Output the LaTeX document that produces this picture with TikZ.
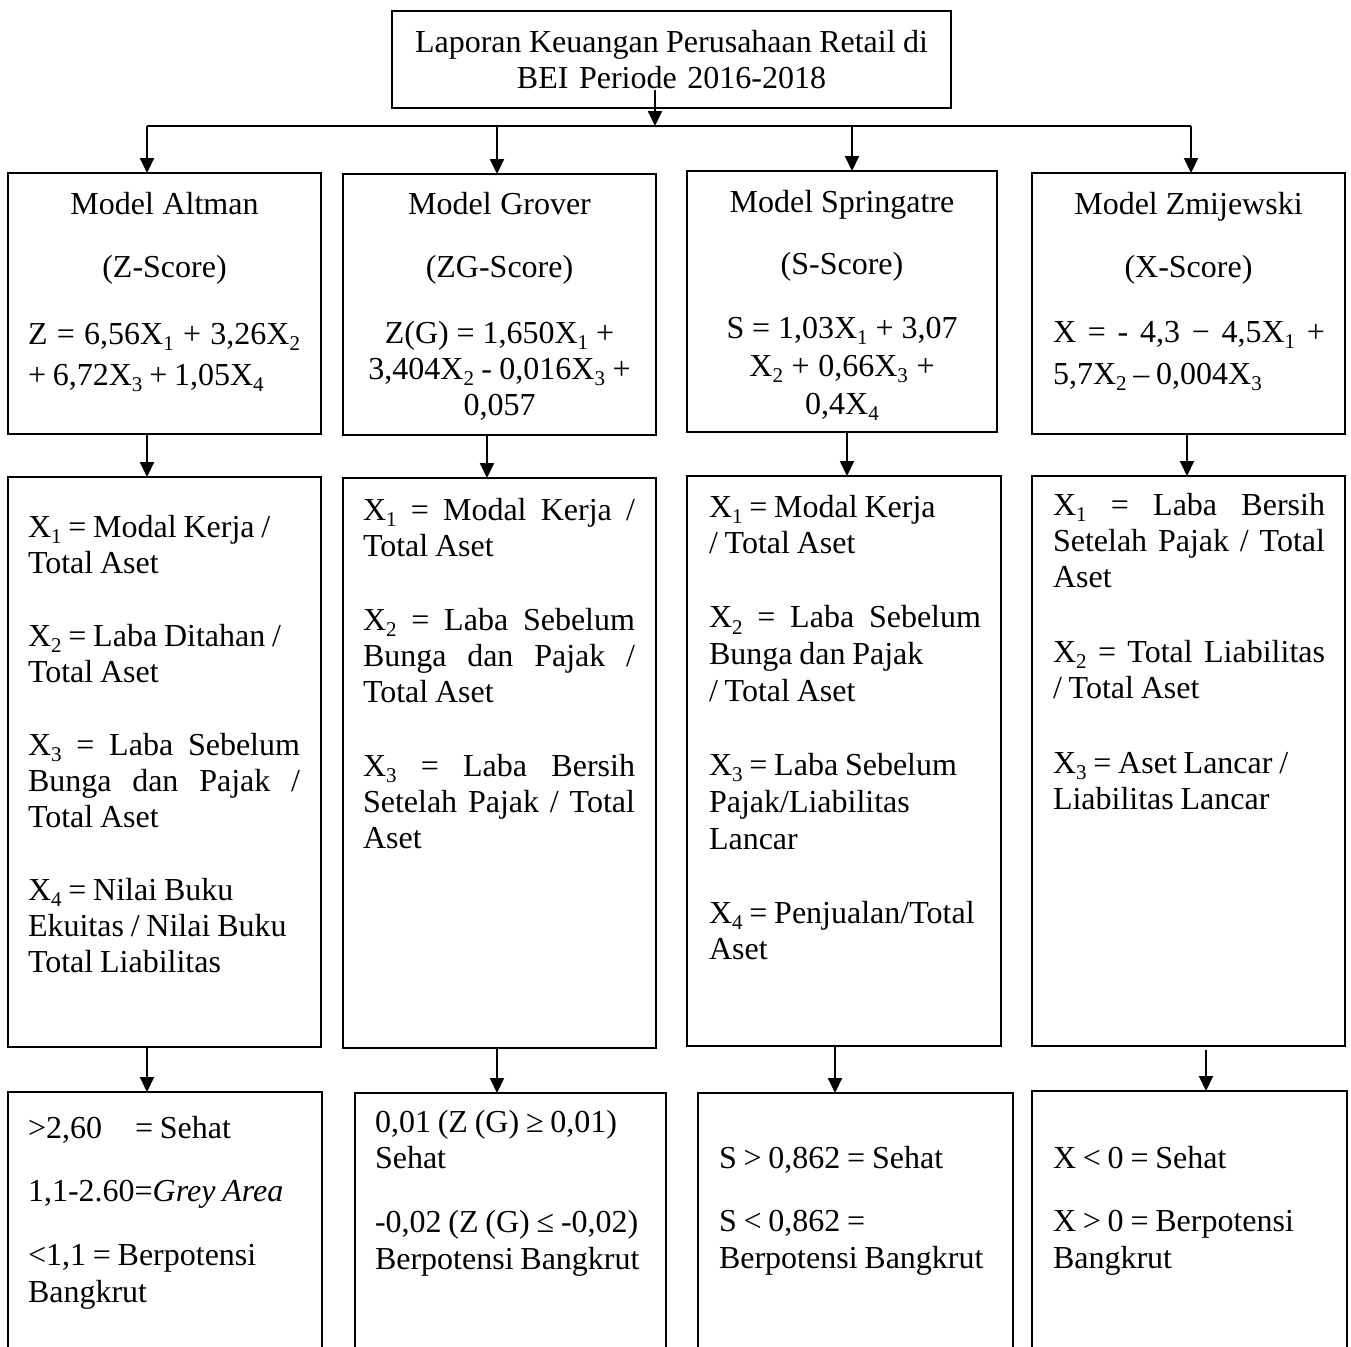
\documentclass[tikz,border=0pt]{standalone}
\usepackage{fontspec}
\setmainfont{Liberation Serif}
\usetikzlibrary{arrows.meta}
\newcommand{\xsb}[1]{\raisebox{-0.2em}{\fontsize{10.5}{10}\selectfont #1}}
\newcommand{\jl}[1]{\makebox[136pt][s]{\spaceskip=3pt plus 1fil minus 0.5pt\relax #1}}
\newcommand{\txtfont}[1]{\fontsize{16}{#1}\selectfont}
\begin{document}
\begin{tikzpicture}[x=0.5pt,y=-0.5pt,
  box/.style={draw, line width=1.1pt, anchor=north west, inner sep=0pt, outer sep=0pt},
  txt/.style={inner sep=0pt, outer sep=0pt, anchor=base west, align=left, text width=150pt, font=\txtfont{18.4pt},
    execute at begin node={\spaceskip=3.4pt plus 1pt minus 0.5pt\relax}},
  ctxt/.style={txt, anchor=base, align=center},
  arr/.style={line width=1pt, -{Triangle[length=7.5pt,width=7pt]}}]
\fill[white] (0,0) rectangle (1351,1346);
\useasboundingbox (0,0) rectangle (1351,1346);

% top box
\node[box, minimum width=279.5pt, minimum height=48.5pt] (top) at (392,11) {};
\node[ctxt, text width=275pt, font=\txtfont{18pt}] (toptxt) at (671.5,52) {Laporan Keuangan Perusahaan Retail di\\BEI Periode 2016-2018};

% row 1 boxes
\node[box, minimum width=156.5pt, minimum height=130.5pt] (a1) at (8,173) {};
\node[box, minimum width=156.5pt, minimum height=130.5pt] (g1) at (343,174) {};
\node[box, minimum width=155pt, minimum height=130.5pt] (s1) at (687,171) {};
\node[box, minimum width=156.5pt, minimum height=130.5pt] (z1) at (1032,173) {};

% row 2 boxes
\node[box, minimum width=156.5pt, minimum height=285pt] (a2) at (8,477) {};
\node[box, minimum width=156.5pt, minimum height=285pt] (g2) at (343,478) {};
\node[box, minimum width=157pt, minimum height=285pt] (s2) at (687,476) {};
\node[box, minimum width=156.5pt, minimum height=285pt] (z2) at (1032,476) {};

% row 3 boxes (run past the lower edge)
\node[box, minimum width=157pt, minimum height=145pt] (a3) at (8,1092) {};
\node[box, minimum width=155.5pt, minimum height=145pt] (g3) at (355,1093) {};
\node[box, minimum width=157.5pt, minimum height=145pt] (s3) at (698,1093) {};
\node[box, minimum width=157.5pt, minimum height=145pt] (z3) at (1032,1091) {};

% row 1 texts
\node[ctxt] (a1t) at (164.5,214) {Model Altman\\[13.1pt](Z-Score)};
\node[txt] (a1f) at (28,344) {\jl{Z = 6,56X\xsb{1} + 3,26X\xsb{2}}\\[2.1pt]+ 6,72X\xsb{3} + 1,05X\xsb{4}};
\node[ctxt] (g1t) at (499.5,214) {Model Grover\\[13.1pt](ZG-Score)};
\node[ctxt, font=\txtfont{18pt}] (g1f) at (499.5,343) {Z(G) = 1,650X\xsb{1} +\\3,404X\xsb{2} - 0,016X\xsb{3} +\\0,057};
\node[ctxt] (s1t) at (842,212) {Model Springatre\\[12.6pt](S-Score)};
\node[ctxt, font=\txtfont{19pt}] (s1f) at (842,338) {S = 1,03X\xsb{1} + 3,07\\X\xsb{2} + 0,66X\xsb{3} +\\0,4X\xsb{4}};
\node[ctxt] (z1t) at (1188.5,214) {Model Zmijewski\\[13.1pt](X-Score)};
\node[txt] (z1f) at (1053,342) {\jl{X = - 4,3 − 4,5X\xsb{1} +}\\[2.6pt]5,7X\xsb{2} – 0,004X\xsb{3}};

% row 2 texts
\node[txt, font=\txtfont{18pt}] (a2t) at (28,537) {X\xsb{1} = Modal Kerja /\\Total Aset\\[18.5pt]X\xsb{2} = Laba Ditahan /\\Total Aset\\[18.5pt]\jl{X\xsb{3} = Laba Sebelum}\\\jl{Bunga dan Pajak /}\\Total Aset\\[18.5pt]X\xsb{4} = Nilai Buku\\Ekuitas / Nilai Buku\\Total Liabilitas};
\node[txt, font=\txtfont{18pt}] (g2t) at (363,520) {\jl{X\xsb{1} = Modal Kerja /}\\Total Aset\\[19pt]\jl{X\xsb{2} = Laba Sebelum}\\\jl{Bunga dan Pajak /}\\Total Aset\\[19pt]\jl{X\xsb{3} = Laba Bersih}\\\jl{Setelah Pajak / Total}\\Aset};
\node[txt, font=\txtfont{18.4pt}] (s2t) at (709,517) {X\xsb{1} = Modal Kerja\\/ Total Aset\\[18.6pt]\jl{X\xsb{2} = Laba Sebelum}\\Bunga dan Pajak\\/ Total Aset\\[18.6pt]X\xsb{3} = Laba Sebelum\\Pajak/Liabilitas\\Lancar\\[18.6pt]X\xsb{4} = Penjualan/Total\\Aset};
\node[txt, font=\txtfont{18.2pt}] (z2t) at (1053,515) {\jl{X\xsb{1} = Laba Bersih}\\\jl{Setelah Pajak / Total}\\Aset\\[19pt]\jl{X\xsb{2} = Total Liabilitas}\\/ Total Aset\\[19pt]X\xsb{3} = Aset Lancar /\\Liabilitas Lancar};

% row 3 texts
\node[txt] (a3t) at (28,1138) {>2,60\hspace{16.5pt}= Sehat\\[13.5pt]1,1-2.60=\textit{Grey Area}\\[13.5pt]<1,1 = Berpotensi\\Bangkrut};
\node[txt] (g3t) at (375,1132) {0,01 (Z (G) ≥ 0,01)\\Sehat\\[13.5pt]-0,02 (Z (G) ≤ -0,02)\\Berpotensi Bangkrut};
\node[txt] (s3t) at (719,1168) {S > 0,862 = Sehat\\[13.5pt]S < 0,862 =\\Berpotensi Bangkrut};
\node[txt] (z3t) at (1053,1168) {X < 0 = Sehat\\[13.5pt]X > 0 = Berpotensi\\Bangkrut};

% connectors
\coordinate (tstart) at (655,90);
\coordinate (hub) at (655,126);
\coordinate (hl) at (147,126);
\coordinate (hr) at (1191,126);
\coordinate (hg) at (497,126);
\coordinate (hs) at (852,126);
\draw[arr] (tstart) -- (hub);
\draw[line width=1pt] (hl) -- (hr);
\draw[arr] (hl) -- (a1.north -| hl);
\draw[arr] (hg) -- (g1.north -| hg);
\draw[arr] (hs) -- (s1.north -| hs);
\draw[arr] (hr) -- (z1.north -| hr);

\coordinate (ka) at (147,0);
\coordinate (kg) at (487,0);
\coordinate (ks) at (847,0);
\coordinate (kz) at (1187,0);
\draw[arr] (a1.south -| ka) -- (a2.north -| ka);
\draw[arr] (g1.south -| kg) -- (g2.north -| kg);
\draw[arr] (s1.south -| ks) -- (s2.north -| ks);
\draw[arr] (z1.south -| kz) -- (z2.north -| kz);

\coordinate (ma) at (147,0);
\coordinate (mg) at (497,0);
\coordinate (ms) at (835,0);
\coordinate (mz) at (1206,0);
\draw[arr] (a2.south -| ma) -- (a3.north -| ma);
\draw[arr] (g2.south -| mg) -- (g3.north -| mg);
\draw[arr] (s2.south -| ms) -- (s3.north -| ms);
\draw[arr] ([yshift=-2pt]z2.south -| mz) -- (z3.north -| mz);
\end{tikzpicture}
\end{document}
